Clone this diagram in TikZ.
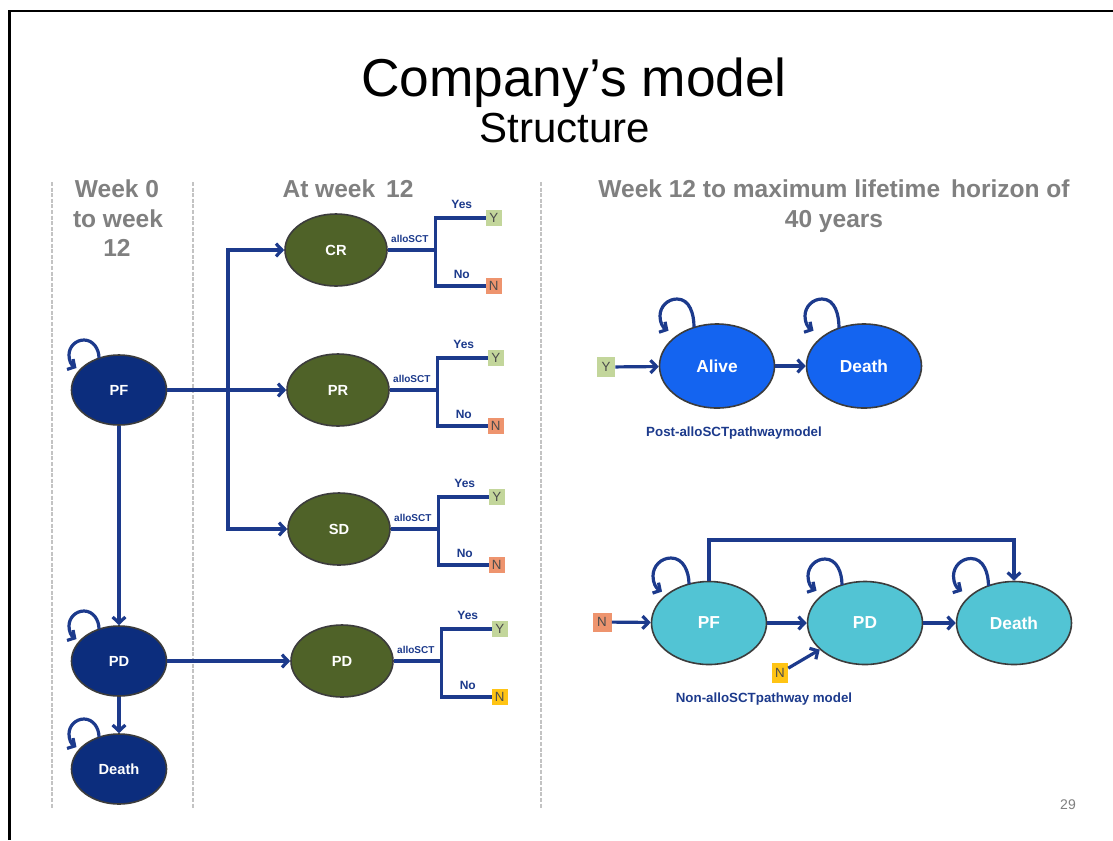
\documentclass[tikz,border=0pt]{standalone}
\usepackage{fontspec}
\setmainfont{Liberation Sans}
\usetikzlibrary{shapes.geometric,arrows.meta,calc}
\newlength\pxu
\setlength\pxu{0.75pt}
\definecolor{navy}{RGB}{12,45,125}
\definecolor{olivef}{RGB}{79,98,40}
\definecolor{bblue}{RGB}{20,100,240}
\definecolor{cyanf}{RGB}{82,196,212}
\definecolor{arrc}{RGB}{28,58,140}
\definecolor{hdrc}{RGB}{128,128,128}
\definecolor{dashc}{RGB}{195,195,195}
\definecolor{ygreen}{RGB}{195,214,155}
\definecolor{nsalmon}{RGB}{238,148,110}
\definecolor{nyellow}{RGB}{255,196,20}
\definecolor{eborder}{RGB}{60,60,60}
\tikzset{
  st/.style={ellipse, draw=eborder, line width=1.2pt, inner sep=0pt, text=white, font=\bfseries\fontsize{11}{13}\selectfont},
  navyst/.style={st, fill=navy, minimum width=95*\pxu, minimum height=70*\pxu},
  olivest/.style={st, fill=olivef, minimum width=102*\pxu, minimum height=72*\pxu},
  bluest/.style={st, fill=bblue, minimum width=115*\pxu, minimum height=84*\pxu, font=\bfseries\fontsize{13}{15}\selectfont},
  cyanst/.style={st, fill=cyanf, minimum width=115*\pxu, minimum height=83*\pxu, font=\bfseries\fontsize{13}{15}\selectfont},
  arr/.style={draw=arrc, line width=2.4pt, -{Straight Barb[length=4.5pt,width=9.5pt]}},
  looparr/.style={draw=arrc, line width=2.4pt, -{Straight Barb[length=4pt,width=9pt]}},
  tree/.style={draw=arrc, line width=2.4pt},
  sbox/.style={inner sep=0pt, minimum width=16*\pxu, minimum height=16*\pxu, text=black!70, font=\fontsize{10}{11}\selectfont},
  ybox/.style={sbox, fill=ygreen},
  nbox/.style={sbox, fill=nsalmon},
  nybox/.style={sbox, fill=nyellow},
  lbl/.style={text=arrc, font=\bfseries\fontsize{9}{10}\selectfont, inner sep=0pt},
  alb/.style={text=arrc, font=\bfseries\fontsize{7.5}{9}\selectfont, inner sep=0pt},
  hdr/.style={text=hdrc, font=\bfseries\fontsize{18.4}{22}\selectfont, anchor=base, inner sep=0pt},
  vdash/.style={draw=dashc, line width=2pt, dash pattern=on 3pt off 1.2pt},
  captxt/.style={text=arrc, font=\bfseries\fontsize{10}{12}\selectfont, inner sep=0pt}
}
% self loop: node, circle centre offset (cx,cy), radius r, start y offset (pixels, y down)
\newcommand\stateloop[5]{%
  \draw[looparr] ($(#1)+({#2+#4},#5)$) to[out=90,in=0] ($(#1)+(#2,{#3-#4})$)
    to[out=180,in=90] ($(#1)+({#2-#4},#3)$)
    to[out=270,in=150] ($(#1)+({#2-0.5*#4},{#3+0.866*#4})$);}
\begin{document}
\begin{tikzpicture}[x=0.75pt, y=-0.75pt]
\useasboundingbox (0,0) rectangle (1113,840);
\fill[white] (0,0) rectangle (1113,840);
% slide frame
\draw[line width=2pt, black] (9.5,840) -- (9.5,11) -- (1113,11);
% titles
\node[anchor=base, inner sep=0pt, font=\fontsize{40}{48}\selectfont] (title) at (574,96) {Company’s model};
\node[anchor=base, inner sep=0pt, font=\fontsize{31.5}{38}\selectfont] (subtitle) at (565,142) {Structure};
% headers
\node[hdr] (h1a) at (117,197) {Week 0};
\node[hdr] (h1b) at (118,227) {to week};
\node[hdr] (h1c) at (117,256) {12};
\node[hdr] (h2) at (348,197) {At week\, 12};
\node[hdr] (h3a) at (834,197) {Week 12 to maximum lifetime\, horizon of};
\node[hdr] (h3b) at (834,227) {40 years};
% dashed separators
\coordinate (d1t) at (52,182); \coordinate (d1b) at (52,808);
\coordinate (d2t) at (193,182); \coordinate (d2b) at (193,808);
\coordinate (d3t) at (541,182); \coordinate (d3b) at (541,808);
\draw[vdash] (d1t) -- (d1b);
\draw[vdash] (d2t) -- (d2b);
\draw[vdash] (d3t) -- (d3b);
% left states
\node[navyst] (PFl) at (119,390) {PF};
\node[navyst] (PDl) at (119,661) {PD};
\node[navyst] (Dl) at (119,769) {Death};
% middle states
\node[olivest] (CR) at (336,250) {CR};
\node[olivest] (PR) at (338,390) {PR};
\node[olivest] (SD) at (339,529) {SD};
\node[olivest] (PDm) at (342,661) {PD};
% left arrows
\coordinate (J) at (228,390);
\draw[arr] (PFl) -- (PR);
\draw[arr] (J) |- (CR);
\draw[arr] (J) |- (SD);
\draw[arr] (PFl) -- (PDl);
\draw[arr] (PDl) -- (Dl);
\draw[arr] (PDl) -- (PDm);
% self loops left
\stateloop{PFl}{-35}{-35}{15}{-32}
\stateloop{PDl}{-35}{-35}{15}{-32}
\stateloop{Dl}{-35}{-35}{15}{-32}
% decision trees
\foreach \s/\nb in {CR/nbox, PR/nbox, SD/nbox, PDm/nybox}{
  \coordinate (j\s) at ($(\s.east)+(48,0)$);
  \node[ybox] (y\s) at ($(j\s)+(58,-32)$) {Y};
  \node[\nb] (n\s) at ($(j\s)+(58,36)$) {N};
  \draw[tree] (\s.east) -- (j\s);
  \draw[tree] (y\s.west) -| (j\s) |- (n\s.west);
  \node[alb] (a\s) at ($(\s.east)+(22,-11)$) {alloSCT};
  \node[lbl] (ye\s) at ($(j\s)+(26,-46)$) {Yes};
  \node[lbl] (no\s) at ($(j\s)+(26,24)$) {No};
}
% post-alloSCT model
\node[ybox, minimum width=18*\pxu, minimum height=20*\pxu] (Yp) at (606,367) {Y};
\node[bluest] (Alive) at (717,366) {Alive};
\node[bluest] (DA) at (864,366) {Death};
\draw[arr] (Yp) -- (Alive);
\draw[arr] (Alive) -- (DA);
\stateloop{Alive}{-40}{-50}{17}{-39}
\stateloop{DA}{-42}{-50}{17}{-38}
\node[captxt] (capA) at (734,433) {Post-alloSCTpathwaymodel};
% non-alloSCT model
\node[nbox, minimum width=19*\pxu, minimum height=19*\pxu] (Np) at (602,622) {N};
\node[cyanst] (PFc) at (709,623) {PF};
\node[cyanst] (PDc) at (865,623) {PD};
\node[cyanst] (Dc) at (1014,623) {Death};
\node[nybox, minimum height=20*\pxu] (Nq) at (780,673) {N};
\draw[arr] (Np) -- (PFc);
\draw[arr] (PFc) -- (PDc);
\draw[arr] (PDc) -- (Dc);
\draw[arr] (Nq) -- (PDc);
\coordinate (top) at (709,540);
\draw[arr] (PFc.north) -- (top) -| (Dc.north);
\stateloop{PFc}{-38}{-47}{18}{-39}
\stateloop{PDc}{-40}{-47}{17}{-38}
\stateloop{Dc}{-43}{-47}{17.5}{-37}
\node[captxt] (capN) at (764,699) {Non-alloSCTpathway model};
% page number
\node[text=hdrc, font=\fontsize{10.5}{12}\selectfont] (pg) at (1068,805) {29};
\end{tikzpicture}
\end{document}
